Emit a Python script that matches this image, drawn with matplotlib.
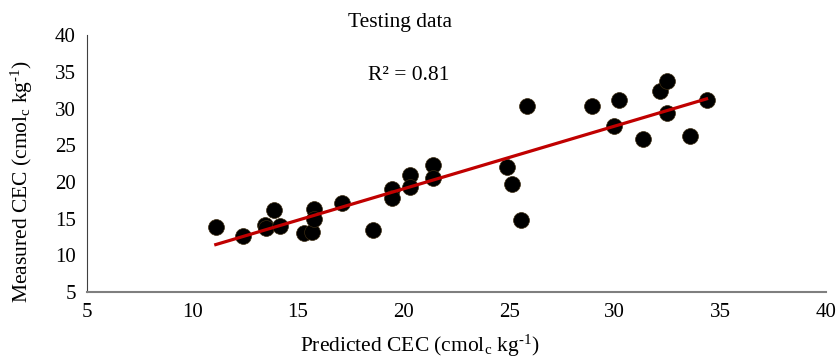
import numpy as np
import matplotlib
matplotlib.use("Agg")
import matplotlib.pyplot as plt

plt.rcParams['font.family'] = ['Liberation Serif', 'DejaVu Serif']
plt.rcParams['mathtext.fontset'] = 'custom'
plt.rcParams['mathtext.rm'] = 'Liberation Serif'
plt.rcParams['mathtext.it'] = 'Liberation Serif:italic'

# predicted vs measured CEC
predicted = [11.1, 12.4, 13.45, 13.5, 13.85, 14.15, 15.3, 15.65, 15.75, 15.75,
             17.1, 18.55, 19.45, 19.45, 20.3, 20.3, 21.4, 21.4, 24.9, 25.15,
             25.55, 25.85, 28.9, 29.95, 30.2, 31.35, 32.15, 32.5, 32.5, 33.55, 34.35]
measured = [13.9, 12.6, 14.1, 13.7, 16.2, 14.0, 13.1, 13.2, 16.3, 15.0,
            17.1, 13.5, 19.1, 17.8, 20.9, 19.3, 22.3, 20.5, 22.0, 19.7,
            14.8, 30.3, 30.4, 27.6, 31.1, 25.8, 32.4, 33.8, 29.4, 26.3, 31.1]

fig = plt.figure(figsize=(8.4, 3.58), dpi=100)
ax = fig.add_axes([0.1036, 0.184, 0.8795, 0.718])

ax.scatter(predicted, measured, s=130, c='black', edgecolors='#3a2a10', linewidths=0.5, zorder=3)

# linear trend line
k, b = np.polyfit(predicted, measured, 1)
xs = np.array([min(predicted), max(predicted)])
ax.plot(xs, k * xs + b, color='#C00000', lw=2.3, zorder=4)

ax.set_xlim(5, 40)
ax.set_ylim(5, 40)
ax.set_xticks(range(5, 41, 5))
ax.set_yticks(range(5, 41, 5))
ax.tick_params(length=0, labelsize=15, pad=8)
for s in ['top', 'right']:
    ax.spines[s].set_visible(False)
ax.spines['left'].set_color('#404040')
ax.spines['bottom'].set_color('#7f7f7f')
ax.spines['bottom'].set_linewidth(1.5)

lab = r'CEC (cmol$_{\rm c}$ kg$^{\text{-1}}$)'
fig.text(0.476, 0.938, 'Testing data', ha='center', va='center', fontsize=15.5)
fig.text(0.486, 0.79, 'R² = 0.81', ha='center', va='center', fontsize=15.5)
fig.text(0.5, 0.035, 'Predicted ' + lab, ha='center', va='center', fontsize=15.5)
fig.text(0.026, 0.493, 'Measured ' + lab, ha='center', va='center',
         rotation=90, fontsize=15.5)

plt.savefig('out.png', dpi=100)
